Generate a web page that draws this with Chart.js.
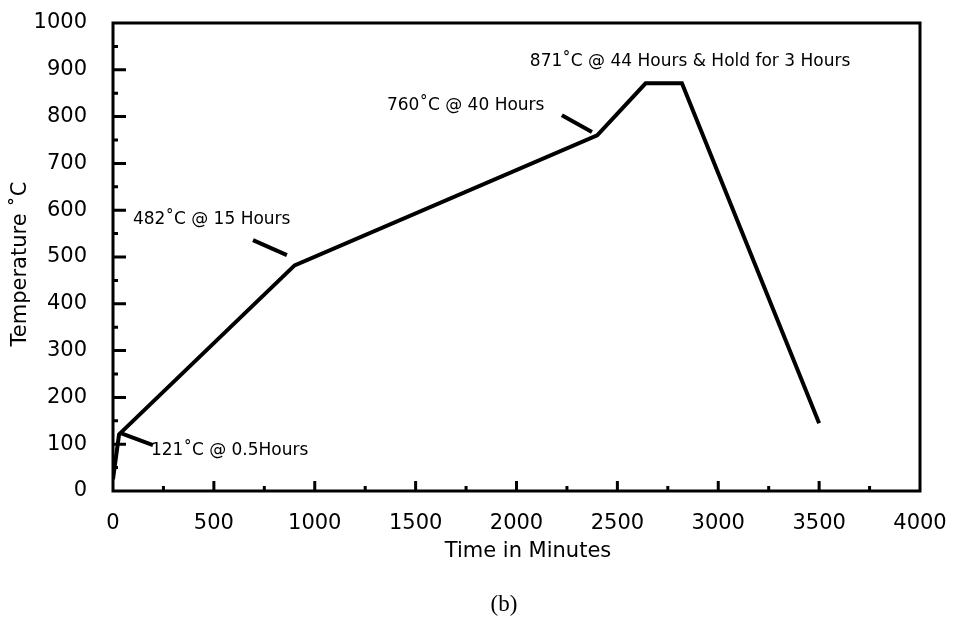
<!DOCTYPE html>
<html>
<head>
    <meta charset="UTF-8">
    <title>Heat Treatment Cycle</title>
    <script src="https://cdn.jsdelivr.net/npm/chart.js"></script>
    <style>
        body { margin: 0; background: #fff; }
    </style>
</head>
<body>
    <canvas id="myChart" width="954" height="624"></canvas>

    <script>
        // furnace profile, minutes vs deg C
        const timeMin = [0, 30, 900, 2400, 2640, 2820, 3500];
        const tempC = [25, 121, 482, 760, 871, 871, 145];

        // annotation labels and where they sit (data units)
        const noteText = ['121˚C @ 0.5Hours', '482˚C @ 15 Hours', '760˚C @ 40 Hours', '871˚C @ 44 Hours & Hold for 3 Hours'];
        const noteX = [188, 99, 1358, 2066];
        const noteY = [86, 579, 823, 917];

        // leader lines [x1, x2], [y1, y2]
        const leaderX = [[35, 198], [694, 862], [2225, 2374]];
        const leaderY = [[124, 98], [536, 504], [803, 767]];

        const xTicks = [0, 500, 1000, 1500, 2000, 2500, 3000, 3500, 4000];
        const yTicks = [0, 100, 200, 300, 400, 500, 600, 700, 800, 900, 1000];

        const FONT = 'DejaVu Sans';

        const datasets = [{
            data: timeMin.map((t, i) => ({ x: t, y: tempC[i] })),
            borderColor: '#000',
            borderWidth: 4,
            pointRadius: 0,
            showLine: true,
            tension: 0
        }];
        leaderX.forEach((xs, i) => {
            datasets.push({
                data: xs.map((x, j) => ({ x: x, y: leaderY[i][j] })),
                borderColor: '#000',
                borderWidth: 4,
                pointRadius: 0,
                showLine: true,
                borderCapStyle: 'butt'
            });
        });

        const noPad = s => {
            s.paddingLeft = 0; s.paddingRight = 0;
            s.paddingTop = 0; s.paddingBottom = 0;
        };

        const extras = {
            id: 'extras',
            afterDraw(chart) {
                const c = chart.ctx;
                const a = chart.chartArea;
                const xs = chart.scales.x, ys = chart.scales.y;
                c.save();
                c.strokeStyle = '#000';
                c.lineWidth = 3;
                c.strokeRect(a.left, a.top, a.right - a.left, a.bottom - a.top);

                // inward ticks
                c.beginPath();
                for (let v = 50; v < 1000; v += 50) {
                    const py = ys.getPixelForValue(v);
                    const len = v % 100 === 0 ? 13 : 5;
                    c.moveTo(a.left, py);
                    c.lineTo(a.left + len, py);
                }
                for (let v = 250; v < 4000; v += 250) {
                    const px = xs.getPixelForValue(v);
                    const len = v % 500 === 0 ? 10 : 5;
                    c.moveTo(px, a.bottom);
                    c.lineTo(px, a.bottom - len);
                }
                c.stroke();

                c.fillStyle = '#000';
                c.font = '17px "' + FONT + '"';
                c.textAlign = 'left';
                c.textBaseline = 'middle';
                noteText.forEach((t, i) => {
                    c.fillText(t, xs.getPixelForValue(noteX[i]), ys.getPixelForValue(noteY[i]));
                });

                // axis titles
                c.font = '21px "' + FONT + '"';
                c.textAlign = 'center';
                c.fillText('Time in Minutes', 528, 552);
                c.save();
                c.translate(21, 264);
                c.rotate(-Math.PI / 2);
                c.fillText('Temperature ˚C', 0, 0);
                c.restore();

                c.font = '23px "Liberation Serif"';
                c.fillText('(b)', 504, 605);
                c.restore();
            }
        };

        const ctx = document.getElementById('myChart').getContext('2d');
        new Chart(ctx, {
            type: 'scatter',
            data: { datasets: datasets },
            options: {
                responsive: false,
                animation: false,
                layout: { padding: { left: 0, right: 34, top: 23, bottom: 0 } },
                plugins: {
                    legend: { display: false },
                    tooltip: { enabled: false }
                },
                scales: {
                    x: {
                        type: 'linear',
                        min: 0,
                        max: 4000,
                        afterFit: s => { s.height = 133; noPad(s); },
                        afterBuildTicks: s => { s.ticks = xTicks.map(v => ({ value: v })); },
                        grid: { display: false },
                        border: { display: false },
                        ticks: {
                            color: '#000',
                            padding: 12,
                            font: { family: FONT, size: 21 },
                            callback: v => String(v)
                        }
                    },
                    y: {
                        min: 0,
                        max: 1000,
                        afterFit: s => { s.width = 113; noPad(s); },
                        afterBuildTicks: s => { s.ticks = yTicks.map(v => ({ value: v })); },
                        grid: { display: false },
                        border: { display: false },
                        ticks: {
                            color: '#000',
                            padding: 18,
                            font: { family: FONT, size: 21 },
                            callback: v => String(v)
                        }
                    }
                }
            },
            plugins: [extras]
        });
    </script>
</body>
</html>
